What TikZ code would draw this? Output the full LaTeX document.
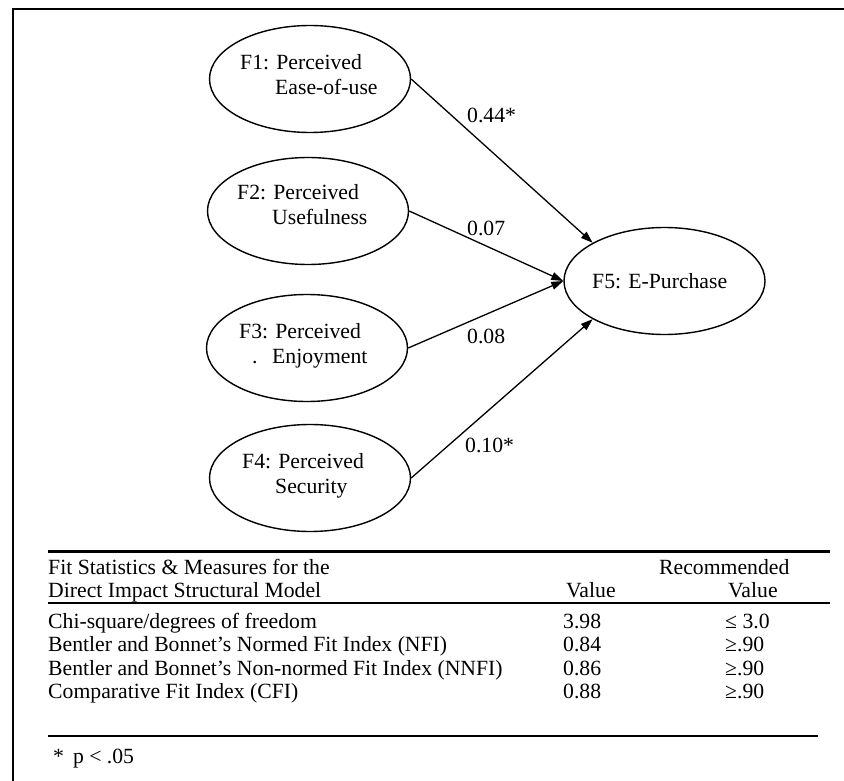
\documentclass[tikz,border=0pt]{standalone}
\usepackage{fontspec}
\setmainfont{Liberation Serif}
\usetikzlibrary{arrows.meta,shapes.geometric}
\begin{document}
\begin{tikzpicture}[x=1pt,y=-1pt,
  every node/.style={font=\fontsize{21.7}{25}\selectfont, inner sep=0pt},
  factor/.style={draw, ellipse, line width=1.4pt, minimum width=201pt, minimum height=107pt},
  txt/.style={anchor=base west},
  link/.style={line width=1.3pt, -{Triangle[length=12pt,width=8pt]}},
  thickrule/.style={line width=3pt},
  midrule/.style={line width=2pt},
  thinrule/.style={line width=1.5pt}
]
\useasboundingbox (0,0) rectangle (844,781);
% frame
\draw[line width=1.5pt] (844,9) -- (13,9) -- (13,781);

% factor ellipses
\node[factor] (F1) at (310,79) {};
\node[factor] (F2) at (308,211) {};
\node[factor] (F3) at (307,348) {};
\node[factor] (F4) at (310,478) {};
\node[factor] (F5) at (664.5,281) {};

% factor labels
\node[txt] (F1a) at (240,70) {F1: Perceived};
\node[txt] (F1b) at (275,95) {Ease-of-use};
\node[txt] (F2a) at (237,200) {F2: Perceived};
\node[txt] (F2b) at (272,225) {Usefulness};
\node[txt] (F3a) at (239,338) {F3: Perceived};
\node[txt] (F3d) at (252,363) {.};
\node[txt] (F3b) at (272,363) {Enjoyment};
\node[txt] (F4a) at (242,468) {F4: Perceived};
\node[txt] (F4b) at (275,493) {Security};
\node[txt] (F5a) at (592,288) {F5: E-Purchase};

% paths
\draw[link] (F1.east) -- (F5.152);
\draw[link] (F2.east) -- (F5.west);
\draw[link] (F3.east) -- (F5.west);
\draw[link] (F4.east) -- (F5.208);

% path coefficients
\node[txt] (c1) at (467,123) {0.44*};
\node[txt] (c2) at (467,235) {0.07};
\node[txt] (c3) at (467,343) {0.08};
\node[txt] (c4) at (465,452) {0.10*};

% table
\draw[thickrule] (48,551) -- (830,551);
\node[txt] (h1) at (48,574) {Fit Statistics \& Measures for the};
\node[txt] (h2) at (48,597) {Direct Impact Structural Model};
\node[txt] (h3) at (659,574) {Recommended};
\node[txt] (h4) at (566,597) {Value};
\node[txt] (h5) at (728,597) {Value};
\draw[midrule] (48,603) -- (830,603);

\node[txt] (r1) at (48,628) {Chi-square/degrees of freedom};
\node[txt] (r2) at (48,651) {Bentler and Bonnet’s Normed Fit Index (NFI)};
\node[txt] (r3) at (48,675) {Bentler and Bonnet’s Non-normed Fit Index (NNFI)};
\node[txt] (r4) at (48,698) {Comparative Fit Index (CFI)};

\node[txt] (v1) at (563,628) {3.98};
\node[txt] (v2) at (563,651) {0.84};
\node[txt] (v3) at (563,675) {0.86};
\node[txt] (v4) at (563,698) {0.88};

\node[txt] (q1) at (725,628) {≤ 3.0};
\node[txt] (q2) at (725,651) {≥.90};
\node[txt] (q3) at (725,675) {≥.90};
\node[txt] (q4) at (725,698) {≥.90};

\draw[thinrule] (48,736) -- (818,736);
\node[txt] (note) at (53,763) {*\hspace{9pt}p < .05};
\end{tikzpicture}
\end{document}
